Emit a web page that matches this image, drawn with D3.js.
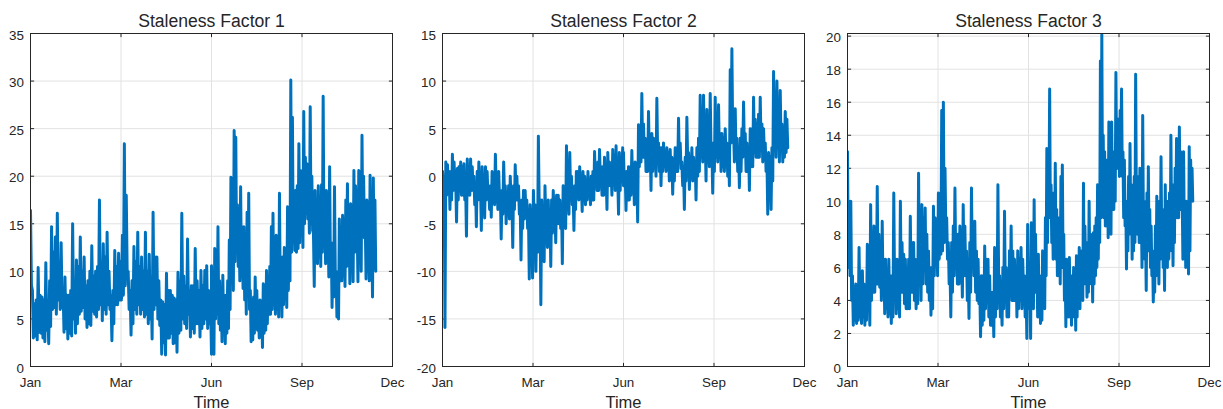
<!DOCTYPE html>
<html><head><meta charset="utf-8">
<script src="https://cdn.jsdelivr.net/npm/d3@7"></script>
<style>
body{margin:0;background:#fff}
svg{display:block}
text{font-family:"Liberation Sans",Arial,Helvetica,sans-serif;fill:#262626}
</style>
</head><body><svg id="c" width="1223" height="409"></svg>
<script>
// ---------- data ----------
const xTickLabels = ["Jan", "Mar", "Jun", "Sep", "Dec"];
const xTickPositions = [0, 1, 2, 3, 4];
const splitPosition = 2;       // "Jun"
const dataEndPosition = 3.815; // last sample (before "Dec")

const titles = ["Staleness Factor 1", "Staleness Factor 2", "Staleness Factor 3"];
const xLabel = "Time";

const yTicks1 = [0, 5, 10, 15, 20, 25, 30, 35];
const yDomain1 = [0, 35];
const yTicks2 = [-20, -15, -10, -5, 0, 5, 10, 15];
const yDomain2 = [-20, 15];
const yTicks3 = [0, 2, 4, 6, 8, 10, 12, 14, 16, 18, 20];
const yDomain3 = [0, 20.16];

// The series are very dense: for every reading step the line swings between the
// reading and the opposite edge of the band at that step ("...Counter" arrays).

// Factor 1: Jan -> Jun
const factor1First = [16.4, 3.0, 6.6, 2.8, 10.4, 3.5, 7.3, 2.6, 10.9, 2.4,
  9.0, 14.7, 6.2, 13.6, 16.1, 6.0, 13.0, 3.6, 9.4, 2.9,
  7.5, 3.2, 15.0, 3.5, 11.2, 5.5, 13.6, 6.2, 11.5, 4.1,
  9.0, 4.3, 12.7, 5.5, 10.0, 6.0, 17.5, 4.8, 12.9, 5.5,
  14.1, 6.0, 2.7, 8.0, 12.2, 6.5, 11.9, 7.0, 13.8, 23.4,
  9.5, 6.0, 3.3, 9.0, 12.6, 5.5, 14.1, 5.5, 11.5, 5.2,
  14.1, 4.5, 11.8, 2.9, 16.2, 6.5, 11.5, 4.3, 1.3, 6.8,
  1.2, 9.8, 3.0, 8.0, 2.4, 7.2, 1.5, 9.9, 3.8, 16.1,
  4.5, 8.5, 13.4, 3.1, 8.5, 3.5, 12.4, 4.5, 3.1, 10.1,
  4.5, 10.1, 10.6, 4.5, 1.3];
const factor1FirstCounter = [8.5, 8.0, 3.2, 7.0, 3.6, 7.5, 3.0, 7.0, 3.8, 6.5,
  4.2, 6.0, 12.0, 5.5, 7.0, 11.0, 6.2, 8.0, 4.0, 7.5,
  3.5, 8.0, 5.0, 8.5, 4.5, 10.5, 5.8, 10.0, 5.0, 8.5,
  4.5, 10.0, 5.8, 9.5, 5.2, 10.5, 6.5, 11.0, 6.0, 11.5,
  6.5, 10.0, 7.5, 4.5, 6.5, 10.5, 7.0, 11.0, 7.5, 8.5,
  18.0, 10.0, 8.0, 4.5, 6.0, 11.0, 6.5, 10.5, 6.0, 10.0,
  5.5, 10.0, 5.0, 8.5, 6.0, 11.5, 5.0, 9.0, 7.0, 2.5,
  6.5, 3.0, 8.0, 3.5, 7.5, 2.5, 7.0, 3.5, 9.0, 5.0,
  9.5, 4.0, 5.5, 8.0, 4.0, 8.5, 4.5, 9.0, 8.0, 4.0,
  8.5, 5.0, 4.0, 8.0, 7.0];
// Factor 1: Jun -> end
const factor1Second = [10.6, 1.3, 12.4, 5.5, 14.7, 3.8, 2.6, 9.6, 2.4, 7.5,
  4.0, 13.3, 19.9, 8.0, 24.8, 24.1, 10.5, 15.0, 18.9, 8.2,
  14.7, 5.5, 16.2, 18.2, 2.6, 2.8, 7.3, 9.4, 3.8, 6.5,
  3.1, 2.0, 8.7, 3.8, 10.1, 5.5, 5.5, 14.7, 16.1, 5.5,
  13.8, 5.2, 18.2, 5.2, 11.5, 7.3, 6.2, 16.8, 9.0, 30.1,
  26.2, 12.2, 18.5, 12.4, 23.4, 20.6, 12.5, 26.8, 16.1, 21.3,
  19.0, 27.3, 14.3, 8.4, 18.5, 10.8, 19.0, 10.5, 19.1, 28.4,
  10.8, 18.5, 9.4, 21.0, 6.2, 7.3, 18.9, 5.2, 5.0, 15.5,
  9.0, 15.9, 8.4, 17.5, 19.2, 8.7, 17.1, 8.9, 20.6, 13.5,
  8.9, 20.6, 10.0, 24.3, 13.5, 9.2, 17.5, 9.0, 20.1, 7.3,
  19.8, 17.5];
const factor1SecondCounter = [4.0, 8.0, 5.0, 11.0, 4.5, 9.0, 8.0, 3.5, 7.5, 3.5,
  9.0, 6.0, 9.0, 17.0, 11.0, 12.0, 17.0, 9.0, 9.5, 14.0,
  7.0, 11.0, 7.5, 6.0, 8.0, 7.0, 3.5, 4.0, 8.0, 3.0,
  7.0, 6.5, 3.5, 8.5, 4.5, 9.0, 10.5, 6.0, 6.5, 11.0,
  6.0, 10.5, 7.0, 11.0, 6.5, 12.5, 11.0, 8.0, 15.0, 12.0,
  13.0, 17.0, 12.0, 19.0, 13.0, 14.0, 19.0, 15.0, 22.0, 15.5,
  14.0, 15.0, 20.0, 14.0, 11.0, 16.0, 11.5, 16.5, 12.0, 13.0,
  18.0, 11.0, 15.0, 10.0, 13.0, 12.0, 9.5, 10.0, 9.5, 9.0,
  14.5, 9.5, 15.0, 10.5, 11.0, 15.0, 10.0, 15.5, 12.0, 19.0,
  15.0, 13.0, 17.0, 14.0, 20.0, 15.5, 10.0, 16.0, 11.0, 14.0,
  10.5, 10.0];

// Factor 2: Jan -> Jun
const factor2First = [0.5, -15.9, 1.5, -0.5, -3.5, 0.5, 2.3, -1.0, -4.8, 0.8,
  -1.5, 1.5, -2.0, 1.3, -6.3, 1.8, -2.0, 1.8, -1.5, 0.0,
  -5.3, 0.5, 1.5, -5.7, 1.0, -4.4, 1.0, -2.0, -1.5, -4.3,
  -2.5, -1.0, 2.3, -1.0, -2.5, -6.6, -1.5, 1.5, -5.0, -2.0,
  -4.5, 0.0, -7.5, -1.0, 1.2, -2.5, -1.0, -8.8, -2.5, -4.5,
  -1.5, -5.5, -10.8, -3.0, -10.7, -1.5, -10.0, -4.5, 4.2, -13.5,
  -6.0, -9.0, -1.0, -4.5, -6.5, -9.5, -2.5, -4.0, -7.0, -2.0,
  -5.0, -2.5, -9.2, -1.0, -5.5, 3.2, -1.0, 2.5, -3.0, -5.7,
  -1.0, -2.0, 0.5, -1.5, -3.7, 0.5, -3.0, -0.5, 0.5, -3.0,
  0.0, -2.5, 2.6, -1.5, 1.5, 2.8, -2.0, 1.0, 2.0, -3.5,
  2.5, -1.0, 0.5, 2.8, -1.5, 3.2, -4.0, 2.5, -0.5, 3.0];
const factor2FirstCounter = [-1.0, 0.0, -2.0, 1.2, 0.5, -2.5, -1.5, 1.5, -0.5, -2.5,
  1.0, -2.0, 1.0, -2.5, -1.0, -2.0, 1.0, -1.5, 1.0, -3.0,
  -1.0, -2.5, -2.0, -1.0, -2.5, 0.0, -2.5, 0.5, -3.5, -1.0,
  0.5, -3.0, -1.5, -3.5, 0.5, -2.0, -4.0, -2.0, -1.0, -4.0,
  -1.0, -3.0, -2.5, -3.5, -2.5, 0.0, -4.0, -3.0, -5.5, -1.5,
  -4.0, -2.5, -4.0, -7.0, -3.5, -5.0, -3.0, -8.0, -3.0, -4.0,
  -2.5, -4.0, -5.0, -7.5, -2.5, -3.5, -6.0, -1.5, -3.0, -5.0,
  -2.0, -5.5, -3.0, -4.5, -2.0, -2.5, -4.0, -2.0, 0.0, -1.5,
  -3.5, 0.5, -2.5, 1.0, -0.5, -2.0, 0.0, -2.5, -2.0, -0.5,
  -2.5, 0.5, -1.0, 1.0, -1.5, -0.5, 1.0, -2.0, -1.0, 0.0,
  -1.0, 1.5, -2.0, -0.5, 1.5, -1.0, 0.0, -1.5, 2.0, -1.0];
// Factor 2: Jun -> end
const factor2Second = [2.5, -3.6, 0.5, -2.5, 1.0, 2.7, -3.0, 1.5, -4.8, 5.4,
  1.5, 8.7, 2.0, 0.5, 3.5, 6.8, -1.5, 4.5, 1.0, 2.5,
  8.2, 0.5, -1.0, 3.0, 1.0, 2.5, 1.0, -0.5, 2.8, -1.9,
  1.8, 3.0, 0.5, 6.1, 0.8, 1.5, -3.5, 2.0, 6.2, -1.4,
  2.0, -0.5, 2.0, -2.5, 3.0, 0.5, 8.5, 1.5, 8.5, -0.5,
  7.0, 1.0, 8.7, -1.8, 3.5, 8.3, 1.5, 7.5, 0.5, 4.5,
  0.5, 5.0, 0.0, -1.0, 11.2, 13.4, 5.0, 7.1, 0.5, -1.2,
  4.0, 2.0, 7.8, 0.5, 3.5, -1.5, 5.0, 1.0, 8.3, 2.0,
  5.5, 2.0, 8.3, 1.5, 5.0, 3.5, -4.0, 2.5, -3.5, 3.0,
  11.0, 2.0, 10.0, 1.5, 9.0, 1.5, 5.0, 6.8, 3.0];
const factor2SecondCounter = [-1.0, 0.5, -2.5, 1.0, -2.0, -1.0, 0.5, -2.0, 0.0, 1.0,
  5.0, 2.0, 5.5, 4.0, 0.5, 1.5, 3.0, 0.5, 4.0, 0.0,
  2.0, 3.5, 3.0, 0.5, 3.5, 0.5, 3.0, 2.5, 0.0, 2.0,
  -0.5, 0.5, 3.0, 1.5, 3.5, -1.0, 1.0, -0.5, 1.5, 2.5,
  0.0, 3.0, 0.0, 1.5, 0.0, 4.0, 2.0, 5.0, 2.5, 4.0,
  1.5, 5.0, 2.5, 3.0, 0.5, 2.0, 5.5, 2.0, 4.5, 1.0,
  4.0, 1.5, 3.5, 3.0, 3.5, 4.0, 1.5, 2.0, 4.0, 3.0,
  0.5, 5.0, 2.5, 4.5, 0.5, 3.0, 1.0, 5.0, 2.5, 6.0,
  2.0, 6.5, 3.0, 5.5, 2.0, 0.5, 2.0, -1.0, 2.0, -0.5,
  3.0, 7.0, 3.5, 6.5, 3.0, 5.5, 2.0, 2.5, 6.0];

// Factor 3: Jan -> Jun
const factor3First = [13.0, 5.5, 10.0, 2.5, 4.8, 2.6, 4.5, 7.2, 2.6, 5.8,
  2.5, 4.8, 7.4, 2.5, 9.8, 4.5, 8.5, 5.0, 10.9, 4.8,
  7.0, 8.8, 3.2, 6.5, 3.0, 6.5, 2.6, 5.5, 10.5, 3.2,
  6.5, 3.0, 10.0, 4.5, 6.8, 3.5, 5.8, 3.5, 9.1, 4.5,
  7.5, 3.5, 5.5, 11.7, 4.0, 9.8, 6.0, 9.6, 4.5, 7.0,
  3.1, 6.0, 9.7, 6.5, 8.5, 10.5, 6.8, 15.5, 16.0, 8.0,
  6.5, 5.0, 3.0, 7.5, 5.5, 10.8, 5.0, 8.0, 6.0, 4.2,
  9.8, 5.5, 7.0, 2.9, 7.5, 10.8, 5.5, 8.8, 4.0, 3.8,
  1.8, 5.5, 2.8, 7.3, 4.0, 6.5, 2.5, 4.5, 1.8, 7.2,
  3.5, 11.0, 3.0, 4.5, 3.5, 9.4, 3.0, 5.8, 4.5, 8.5,
  4.0, 4.0, 3.0, 7.0, 4.0, 7.2, 4.5, 5.5, 1.7, 8.6];
const factor3FirstCounter = [6.0, 10.0, 4.0, 5.5, 2.8, 5.0, 2.8, 3.0, 5.5, 3.0,
  5.0, 2.8, 3.5, 6.0, 4.0, 8.0, 4.5, 8.0, 5.0, 8.0,
  4.0, 4.5, 6.5, 3.5, 5.5, 3.2, 5.5, 3.0, 4.5, 6.0,
  3.5, 6.0, 4.5, 7.5, 3.8, 6.5, 3.5, 6.5, 4.5, 7.5,
  4.0, 6.5, 3.8, 5.0, 8.0, 5.0, 9.0, 5.0, 8.0, 4.0,
  6.0, 3.5, 5.5, 9.0, 5.5, 6.5, 9.5, 7.0, 7.5, 12.0,
  9.0, 7.5, 6.0, 4.5, 8.5, 6.0, 8.0, 5.0, 8.5, 7.0,
  5.5, 8.5, 4.0, 6.0, 4.5, 6.0, 8.5, 4.5, 7.0, 6.5,
  5.0, 2.5, 5.5, 3.5, 6.5, 3.0, 5.5, 2.5, 4.5, 3.0,
  6.0, 4.5, 5.5, 2.5, 6.0, 4.0, 6.0, 3.0, 7.0, 4.0,
  7.0, 6.5, 6.0, 3.5, 6.5, 3.5, 6.5, 3.0, 5.0, 4.0];
// Factor 3: Jun -> end
const factor3Second = [6.0, 1.7, 8.7, 3.5, 10.1, 4.5, 3.0, 6.8, 2.6, 5.0,
  4.0, 6.2, 5.5, 13.2, 9.5, 16.8, 7.5, 10.0, 7.0, 12.3,
  5.5, 9.0, 5.0, 11.5, 12.2, 4.0, 2.4, 6.5, 3.0, 6.6,
  2.5, 5.5, 3.5, 2.2, 6.7, 4.0, 7.2, 5.0, 4.0, 11.1,
  6.0, 4.2, 7.5, 10.0, 5.0, 3.9, 8.1, 5.5, 6.0, 11.0,
  7.5, 18.5, 20.1, 14.0, 8.5, 12.0, 7.8, 14.8, 8.0, 14.8,
  9.5, 12.5, 17.8, 12.0, 14.0, 12.5, 16.8, 9.0, 12.5, 5.9,
  10.0, 8.0, 13.5, 6.5, 10.0, 7.5, 17.7, 11.0, 7.5, 12.0,
  6.0, 15.2, 6.5, 4.6, 7.5, 12.1, 6.0, 5.5, 3.9, 6.5,
  8.5, 10.3, 5.0, 10.0, 12.7, 6.0, 4.6, 11.0, 6.0, 10.0,
  7.0, 14.0, 6.1, 11.0, 9.0, 13.8, 9.0, 14.5, 10.0, 6.5,
  13.0, 6.0, 10.0, 5.6, 13.3, 10.2, 12.0];
const factor3SecondCounter = [3.5, 5.5, 4.0, 7.0, 4.5, 8.0, 6.0, 3.0, 5.5, 2.8,
  7.0, 3.5, 9.0, 7.5, 12.0, 9.0, 11.0, 6.5, 10.5, 6.5,
  9.5, 5.5, 9.0, 6.0, 6.5, 8.0, 6.0, 3.0, 6.0, 3.0,
  5.5, 3.0, 6.0, 5.0, 3.0, 6.5, 3.5, 7.0, 7.0, 5.0,
  8.5, 7.0, 4.5, 5.5, 8.0, 7.0, 5.0, 8.5, 9.0, 6.5,
  11.0, 9.0, 10.0, 9.0, 13.0, 8.5, 12.5, 9.0, 12.5, 9.5,
  13.0, 10.0, 12.0, 15.0, 11.5, 15.5, 11.5, 13.0, 8.5, 10.0,
  7.0, 11.5, 8.5, 11.0, 7.0, 11.5, 10.0, 8.0, 11.5, 8.0,
  10.0, 8.5, 10.0, 8.0, 10.5, 7.0, 9.5, 8.5, 7.0, 4.5,
  5.5, 6.5, 8.5, 6.5, 7.5, 9.5, 8.0, 6.5, 9.5, 6.5,
  10.5, 8.5, 10.5, 7.5, 12.0, 9.0, 12.5, 9.5, 13.0, 10.5,
  8.0, 10.0, 6.5, 9.5, 7.0, 12.5, 10.0];

// ---------- layout ----------
const lefts = [30.5, 442.5, 847.5];
const plotW = 362, plotTop = 33.5, plotBottom = 366.5;
const tickLen = 3.6;
const lineColor = "#0072BD";

const svg = d3.select("#c");

// each reading step contributes its upper and lower swing, evenly spaced in time
function segment(vals, counter, t0, t1) {
  const swings = [];
  vals.forEach((v, i) => {
    const c = (counter[i] === undefined) ? v : counter[i];
    swings.push(Math.max(v, c), Math.min(v, c));
  });
  const t = d3.scaleLinear().domain([0, swings.length - 1]).range([t0, t1]);
  return swings.map((v, j) => [t(j), v]);
}
function buildPoints(first, firstC, second, secondC) {
  return segment(first, firstC, 0, splitPosition)
    .concat(segment(second, secondC, splitPosition, dataEndPosition));
}

const panelDefs = [
  {title: titles[0], ticks: yTicks1, domain: yDomain1,
   data: buildPoints(factor1First, factor1FirstCounter, factor1Second, factor1SecondCounter)},
  {title: titles[1], ticks: yTicks2, domain: yDomain2,
   data: buildPoints(factor2First, factor2FirstCounter, factor2Second, factor2SecondCounter)},
  {title: titles[2], ticks: yTicks3, domain: yDomain3,
   data: buildPoints(factor3First, factor3FirstCounter, factor3Second, factor3SecondCounter)}
];

panelDefs.forEach((p, k) => {
  const L = lefts[k], R = L + plotW;
  const x = d3.scaleLinear().domain([xTickPositions[0], xTickPositions[xTickPositions.length - 1]]).range([L, R]);
  const y = d3.scaleLinear().domain(p.domain).range([plotBottom, plotTop]);
  const g = svg.append("g");

  // grid
  g.selectAll(".gx").data(xTickPositions.slice(1, -1)).join("line")
    .attr("x1", d => x(d)).attr("x2", d => x(d)).attr("y1", plotTop).attr("y2", plotBottom)
    .attr("stroke", "#e2e2e2").attr("stroke-width", 1);
  g.selectAll(".gy").data(p.ticks.filter(t => y(t) > plotTop + 1 && y(t) < plotBottom - 1)).join("line")
    .attr("x1", L).attr("x2", R).attr("y1", d => y(d)).attr("y2", d => y(d))
    .attr("stroke", "#e2e2e2").attr("stroke-width", 1);

  // ticks (inward, all four sides)
  const tk = g.append("g").attr("stroke", "#262626").attr("stroke-width", 1);
  xTickPositions.forEach(t => {
    tk.append("line").attr("x1", x(t)).attr("x2", x(t)).attr("y1", plotBottom).attr("y2", plotBottom - tickLen);
    tk.append("line").attr("x1", x(t)).attr("x2", x(t)).attr("y1", plotTop).attr("y2", plotTop + tickLen);
  });
  p.ticks.forEach(t => {
    tk.append("line").attr("x1", L).attr("x2", L + tickLen).attr("y1", y(t)).attr("y2", y(t));
    tk.append("line").attr("x1", R).attr("x2", R - tickLen).attr("y1", y(t)).attr("y2", y(t));
  });

  // data
  const clipId = "clip" + k;
  svg.append("clipPath").attr("id", clipId).append("rect")
    .attr("x", L).attr("y", plotTop).attr("width", plotW).attr("height", plotBottom - plotTop);
  const line = d3.line().x(d => x(d[0])).y(d => y(d[1]));
  g.append("path").datum(p.data).attr("d", line)
    .attr("clip-path", `url(#${clipId})`)
    .attr("fill", "none").attr("stroke", lineColor).attr("stroke-width", 3)
    .attr("stroke-linejoin", "round").attr("stroke-linecap", "round");

  // box
  g.append("rect").attr("x", L).attr("y", plotTop).attr("width", plotW).attr("height", plotBottom - plotTop)
    .attr("fill", "none").attr("stroke", "#262626").attr("stroke-width", 1);

  // tick labels
  g.selectAll(".xl").data(xTickPositions).join("text")
    .attr("x", d => x(d)).attr("y", 386.5).attr("text-anchor", "middle")
    .attr("font-size", "13.4px").text((d, i) => xTickLabels[i]);
  g.selectAll(".yl").data(p.ticks).join("text")
    .attr("x", L - 6.5).attr("y", d => y(d)).attr("dy", "0.45em").attr("text-anchor", "end")
    .attr("font-size", "13.4px").text(d => d);

  // title & axis label
  g.append("text").attr("x", (L + R) / 2).attr("y", 26.5).attr("text-anchor", "middle")
    .attr("font-size", "17.6px").text(p.title);
  g.append("text").attr("x", (L + R) / 2).attr("y", 407.5).attr("text-anchor", "middle")
    .attr("font-size", "16.5px").text(xLabel);
});
</script>
</body></html>
